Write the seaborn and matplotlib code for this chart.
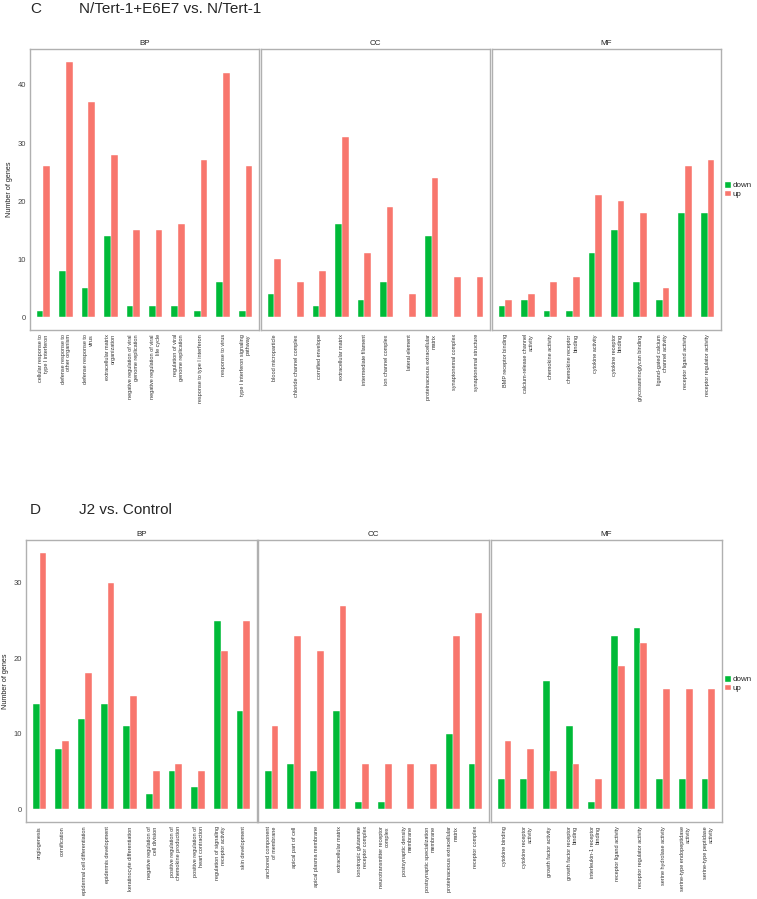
import matplotlib
matplotlib.use("Agg")
import matplotlib.pyplot as plt
import seaborn as sns
import pandas as pd
from matplotlib.patches import Patch

sns.set_style("white")
plt.rcParams['font.family'] = ['Liberation Sans', 'DejaVu Sans']

# ---------------- Data: panel C ----------------
c_bp_terms = ["cellular response to\ntype I interferon", "defense response to\nother organism",
              "defense response to\nvirus", "extracellular matrix\norganization",
              "negative regulation of viral\ngenome replication", "negative regulation of viral\nlife cycle",
              "regulation of viral\ngenome replication", "response to type I interferon",
              "response to virus", "type I interferon signaling\npathway"]
c_bp_down = [1, 8, 5, 14, 2, 2, 2, 1, 6, 1]
c_bp_up = [26, 44, 37, 28, 15, 15, 16, 27, 42, 26]

c_cc_terms = ["blood microparticle", "chloride channel complex", "cornified envelope",
              "extracellular matrix", "intermediate filament", "ion channel complex",
              "lateral element", "proteinaceous extracellular\nmatrix", "synaptonemal complex",
              "synaptonemal structure"]
c_cc_down = [4, 0, 2, 16, 3, 6, 0, 14, 0, 0]
c_cc_up = [10, 6, 8, 31, 11, 19, 4, 24, 7, 7]

c_mf_terms = ["BMP receptor binding", "calcium-release channel\nactivity", "chemokine activity",
              "chemokine receptor\nbinding", "cytokine activity", "cytokine receptor\nbinding",
              "glycosaminoglycan binding", "ligand-gated calcium\nchannel activity",
              "receptor ligand activity", "receptor regulator activity"]
c_mf_down = [2, 3, 1, 1, 11, 15, 6, 3, 18, 18]
c_mf_up = [3, 4, 6, 7, 21, 20, 18, 5, 26, 27]

# ---------------- Data: panel D ----------------
d_bp_terms = ["angiogenesis", "cornification", "epidermal cell differentiation",
              "epidermis development", "keratinocyte differentiation",
              "negative regulation of\ncell division", "positive regulation of\nchemokine production",
              "positive regulation of\nheart contraction", "regulation of signaling\nreceptor activity",
              "skin development"]
d_bp_down = [14, 8, 12, 14, 11, 2, 5, 3, 25, 13]
d_bp_up = [34, 9, 18, 30, 15, 5, 6, 5, 21, 25]

d_cc_terms = ["anchored component\nof membrane", "apical part of cell", "apical plasma membrane",
              "extracellular matrix", "ionotropic glutamate\nreceptor complex",
              "neurotransmitter receptor\ncomplex", "postsynaptic density\nmembrane",
              "postsynaptic specialization\nmembrane", "proteinaceous extracellular\nmatrix",
              "receptor complex"]
d_cc_down = [5, 6, 5, 13, 1, 1, 0, 0, 10, 6]
d_cc_up = [11, 23, 21, 27, 6, 6, 6, 6, 23, 26]

d_mf_terms = ["cytokine binding", "cytokine receptor\nactivity", "growth factor activity",
              "growth factor receptor\nbinding", "interleukin-1 receptor\nbinding",
              "receptor ligand activity", "receptor regulator activity",
              "serine hydrolase activity", "serine-type endopeptidase\nactivity",
              "serine-type peptidase\nactivity"]
d_mf_down = [4, 4, 17, 11, 1, 23, 24, 4, 4, 4]
d_mf_up = [9, 8, 5, 6, 4, 19, 22, 16, 16, 16]

ontologies = ["BP", "CC", "MF"]
directions = ["down", "up"]
palette = {"down": "#00BA38", "up": "#F8766D"}

W, H = 757, 899
fig = plt.figure(figsize=(W / 100, H / 100), dpi=100)


def make_df(terms, down, up):
    return pd.DataFrame({
        "term": terms * 2,
        "direction": ["down"] * len(terms) + ["up"] * len(terms),
        "count": list(down) + list(up),
    })


def add_panel(panels, top_px, bottom_px, lefts, width_px, ymax, yticks, letter, title,
              title_y, legend_y):
    axes = []
    for i, (ont, (terms, down, up)) in enumerate(zip(ontologies, panels)):
        left = lefts[i]
        ax = fig.add_axes([left / W, 1 - bottom_px / H, width_px / W, (bottom_px - top_px) / H])
        df = make_df(terms, down, up)
        sns.barplot(data=df, x="term", y="count", hue="direction", order=terms,
                    hue_order=directions, palette=palette, width=0.6, saturation=1,
                    edgecolor="white", linewidth=0.3, ax=ax, legend=False)
        ax.set_xlim(-0.6, 9.6)
        ax.set_ylim(-ymax * 0.05, ymax * 1.05)
        ax.set_yticks(yticks)
        ax.set_xlabel("")
        ax.set_ylabel("")
        for s in ax.spines.values():
            s.set_color("#b0b0b0")
            s.set_linewidth(1.0)
        ax.tick_params(axis="x", length=1.5, width=0.5, color="#888888", pad=1.5,
                       labelsize=4.0, labelcolor="#333333")
        ax.tick_params(axis="y", length=1.5, width=0.5, color="#888888", pad=1.5,
                       labelsize=5.5, labelcolor="#444444")
        plt.setp(ax.get_xticklabels(), rotation=90, ha="center", va="top",
                 multialignment="right")
        if i > 0:
            ax.set_yticklabels([])
            ax.tick_params(axis="y", length=0)
        ax.text(0.5, 1.008, ont, transform=ax.transAxes, ha="center", va="bottom",
                fontsize=5.8, color="#222222")
        axes.append(ax)
    axes[0].set_ylabel("Number of genes", fontsize=5.2, color="#222222", labelpad=3)
    fig.text(30 / W, 1 - title_y / H, letter, fontsize=11, ha="left", va="center")
    fig.text(79 / W, 1 - title_y / H, title, fontsize=11, ha="left", va="center")
    handles = [Patch(facecolor=palette[d], edgecolor="white", label=d) for d in directions]
    fig.legend(handles=handles, loc="upper left",
               bbox_to_anchor=(724 / W, 1 - legend_y / H), frameon=False,
               fontsize=5.8, handlelength=0.9, handleheight=0.9, handletextpad=0.2,
               labelspacing=0.05, borderpad=0, borderaxespad=0)
    return axes


add_panel([(c_bp_terms, c_bp_down, c_bp_up), (c_cc_terms, c_cc_down, c_cc_up),
           (c_mf_terms, c_mf_down, c_mf_up)],
          top_px=49, bottom_px=330, lefts=[30, 261, 492], width_px=229, ymax=44,
          yticks=[0, 10, 20, 30, 40], letter="C", title="N/Tert-1+E6E7 vs. N/Tert-1",
          title_y=9, legend_y=181)

add_panel([(d_bp_terms, d_bp_down, d_bp_up), (d_cc_terms, d_cc_down, d_cc_up),
           (d_mf_terms, d_mf_down, d_mf_up)],
          top_px=540, bottom_px=822, lefts=[26, 258, 491], width_px=231, ymax=34,
          yticks=[0, 10, 20, 30], letter="D", title="J2 vs. Control",
          title_y=510, legend_y=675)

fig.savefig("out.png", dpi=100, facecolor="white")
